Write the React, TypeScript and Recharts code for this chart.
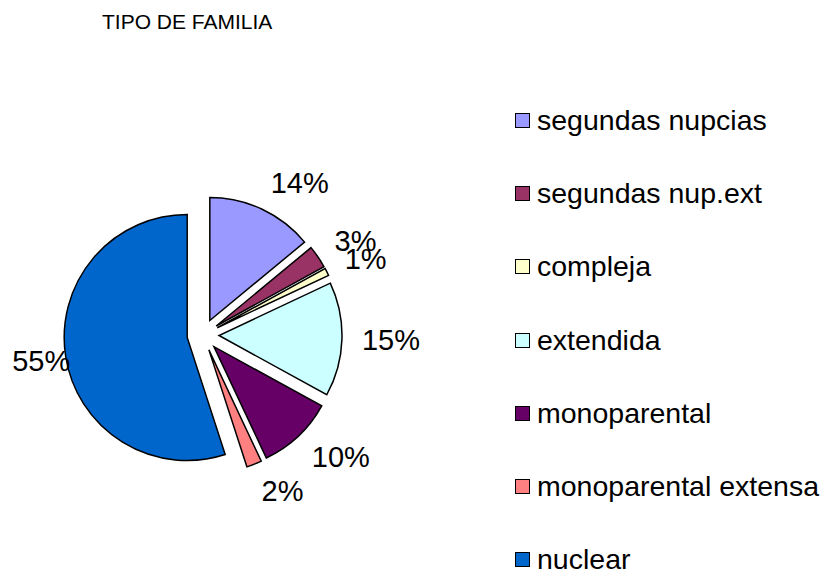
import React from "react";
import { PieChart, Pie, Sector, Legend } from "recharts";

const title = "TIPO DE FAMILIA";
const categories = [
  "segundas nupcias",
  "segundas nup.ext",
  "compleja",
  "extendida",
  "monoparental",
  "monoparental extensa",
  "nuclear",
];
const shares = [14, 3, 1, 15, 10, 2, 55];
const colors = ["#9999FF", "#993366", "#FFFFCC", "#CCFFFF", "#660066", "#FF8080", "#0066CC"];

const data = categories.map((name, i) => ({ name, value: shares[i], fill: colors[i] }));

const RAD = Math.PI / 180;
const EXPLODE = 16;
const FONT = "'Liberation Sans', Arial, sans-serif";
const LABEL_SIZE = 29;

// every slice is pulled out along its mid angle
function ExplodedSector(props: any) {
  const { cx, cy, midAngle } = props;
  const dx = Math.cos(-midAngle * RAD) * EXPLODE;
  const dy = Math.sin(-midAngle * RAD) * EXPLODE;
  return <Sector {...props} cx={cx + dx} cy={cy + dy} stroke="#000" strokeWidth={1.5} />;
}

function renderLabel(props: any) {
  const { cx, cy, midAngle, outerRadius, percent } = props;
  const text = `${Math.round(percent * 100)}%`;
  const ux = Math.cos(-midAngle * RAD);
  const uy = Math.sin(-midAngle * RAD);
  const r = outerRadius + EXPLODE + 20;
  let x = cx + ux * r;
  const y = cy + uy * r + uy * 9;
  const anchor = ux > 0.1 ? "start" : ux < -0.1 ? "end" : "middle";
  // keep left-side labels inside the chart area, like Excel does
  const approxWidth = text.length * LABEL_SIZE * 0.6 + 6;
  if (anchor === "end") x = Math.max(x, approxWidth + 12);
  return (
    <text
      x={x}
      y={y}
      textAnchor={anchor}
      dominantBaseline="central"
      fontSize={LABEL_SIZE}
      fontFamily={FONT}
      fill="#000"
    >
      {text}
    </text>
  );
}

function LegendContent(props: any) {
  const payload: any[] = props.payload || [];
  const colorOf = (name: string, fallback: string) => {
    const hit = payload.find((p) => p.value === name);
    return hit && hit.color ? hit.color : fallback;
  };
  return (
    <div style={{ fontFamily: FONT, fontSize: 28.5, color: "#000" }}>
      {data.map((d) => (
        <div key={d.name} style={{ display: "flex", alignItems: "center", height: 73.2 }}>
          <span
            style={{
              display: "inline-block",
              width: 13,
              height: 13,
              background: colorOf(d.name, d.fill),
              border: "1.5px solid #000",
              marginRight: 7,
            }}
          />
          <span style={{ whiteSpace: "nowrap" }}>{d.name}</span>
        </div>
      ))}
    </div>
  );
}

export default function App() {
  return (
    <div style={{ position: "absolute", left: 0, top: 0, width: 833, height: 576, background: "#fff" }}>
      <div
        style={{
          position: "absolute",
          left: 102,
          top: 11,
          fontFamily: FONT,
          fontSize: 21,
          lineHeight: "21px",
          color: "#000",
          whiteSpace: "nowrap",
        }}
      >
        {title}
      </div>
      <PieChart width={833} height={576} margin={{ top: 0, right: 0, bottom: 0, left: 0 }}>
        <Pie
          data={data}
          dataKey="value"
          nameKey="name"
          cx={203}
          cy={335}
          outerRadius={123}
          startAngle={90}
          endAngle={-270}
          shape={ExplodedSector}
          label={renderLabel}
          labelLine={false}
          isAnimationActive={false}
        />
        <Legend
          layout="vertical"
          content={LegendContent}
          wrapperStyle={{ left: 515, top: 84, width: 318 }}
        />
      </PieChart>
    </div>
  );
}
